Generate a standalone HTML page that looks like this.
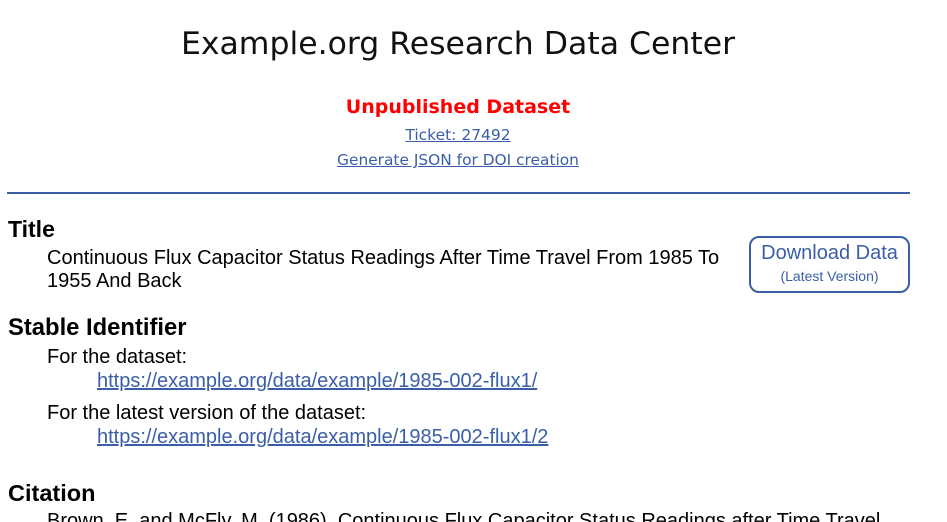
<!DOCTYPE html>
<html><head><meta charset="utf-8">
<style>
html,body{margin:0;padding:0;background:#fff;width:947px;height:522px;overflow:hidden;position:relative}
.a{position:absolute;white-space:nowrap}
.dv{font-family:"DejaVu Sans","Liberation Sans",sans-serif}
.ls{font-family:"Liberation Sans",Arial,sans-serif}
.c{left:0;width:916px;text-align:center}
a{color:#3a5ea8;text-decoration:underline}
</style></head><body>
<div class="a dv c" style="top:23px;font-size:31.5px;line-height:42px;color:#111">Example.org Research Data Center</div>
<div class="a dv c" style="top:94px;font-size:19px;font-weight:bold;color:#f00;line-height:26px">Unpublished Dataset</div>
<div class="a dv c" style="top:125px;font-size:15.5px;line-height:20px"><a>Ticket: 27492</a></div>
<div class="a dv c" style="top:150px;font-size:15.4px;line-height:20px"><a>Generate JSON for DOI creation</a></div>
<div class="a" style="left:7px;top:192px;width:903px;height:2px;background:#3a5ea8"></div>

<div class="a ls" style="left:8px;top:215px;font-size:23px;font-weight:bold;line-height:28px;color:#000">Title</div>
<div class="a ls" style="left:47px;top:247px;font-size:20px;line-height:23px;color:#000;white-space:normal;width:690px">Continuous Flux Capacitor Status Readings After Time Travel From 1985 To 1955 And Back</div>

<div class="a ls" style="left:749px;top:236px;width:157px;height:53px;border:2px solid #3a5ea8;border-radius:10px;text-align:center;color:#3a5ea8">
<div style="font-size:20px;line-height:22px;margin-top:4px">Download Data</div>
<div style="font-size:14px;line-height:18px;margin-top:3px">(Latest Version)</div>
</div>

<div class="a ls" style="left:8px;top:314px;font-size:23.8px;font-weight:bold;line-height:28px;color:#000">Stable Identifier</div>
<div class="a ls" style="left:47px;top:346px;font-size:20px;line-height:23px;color:#000">For the dataset:</div>
<div class="a ls" style="left:97px;top:370px;font-size:20px;line-height:23px"><a>https://example.org/data/example/1985-002-flux1/</a></div>
<div class="a ls" style="left:47px;top:402px;font-size:20px;line-height:23px;color:#000">For the latest version of the dataset:</div>
<div class="a ls" style="left:97px;top:426px;font-size:20px;line-height:23px"><a>https://example.org/data/example/1985-002-flux1/2</a></div>

<div class="a ls" style="left:8px;top:479px;font-size:23.5px;font-weight:bold;line-height:28px;color:#000">Citation</div>
<div class="a ls" style="left:47px;top:510px;font-size:20px;line-height:23px;color:#000">Brown, E. and McFly, M. (1986). Continuous Flux Capacitor Status Readings after Time Travel</div>
</body></html>
